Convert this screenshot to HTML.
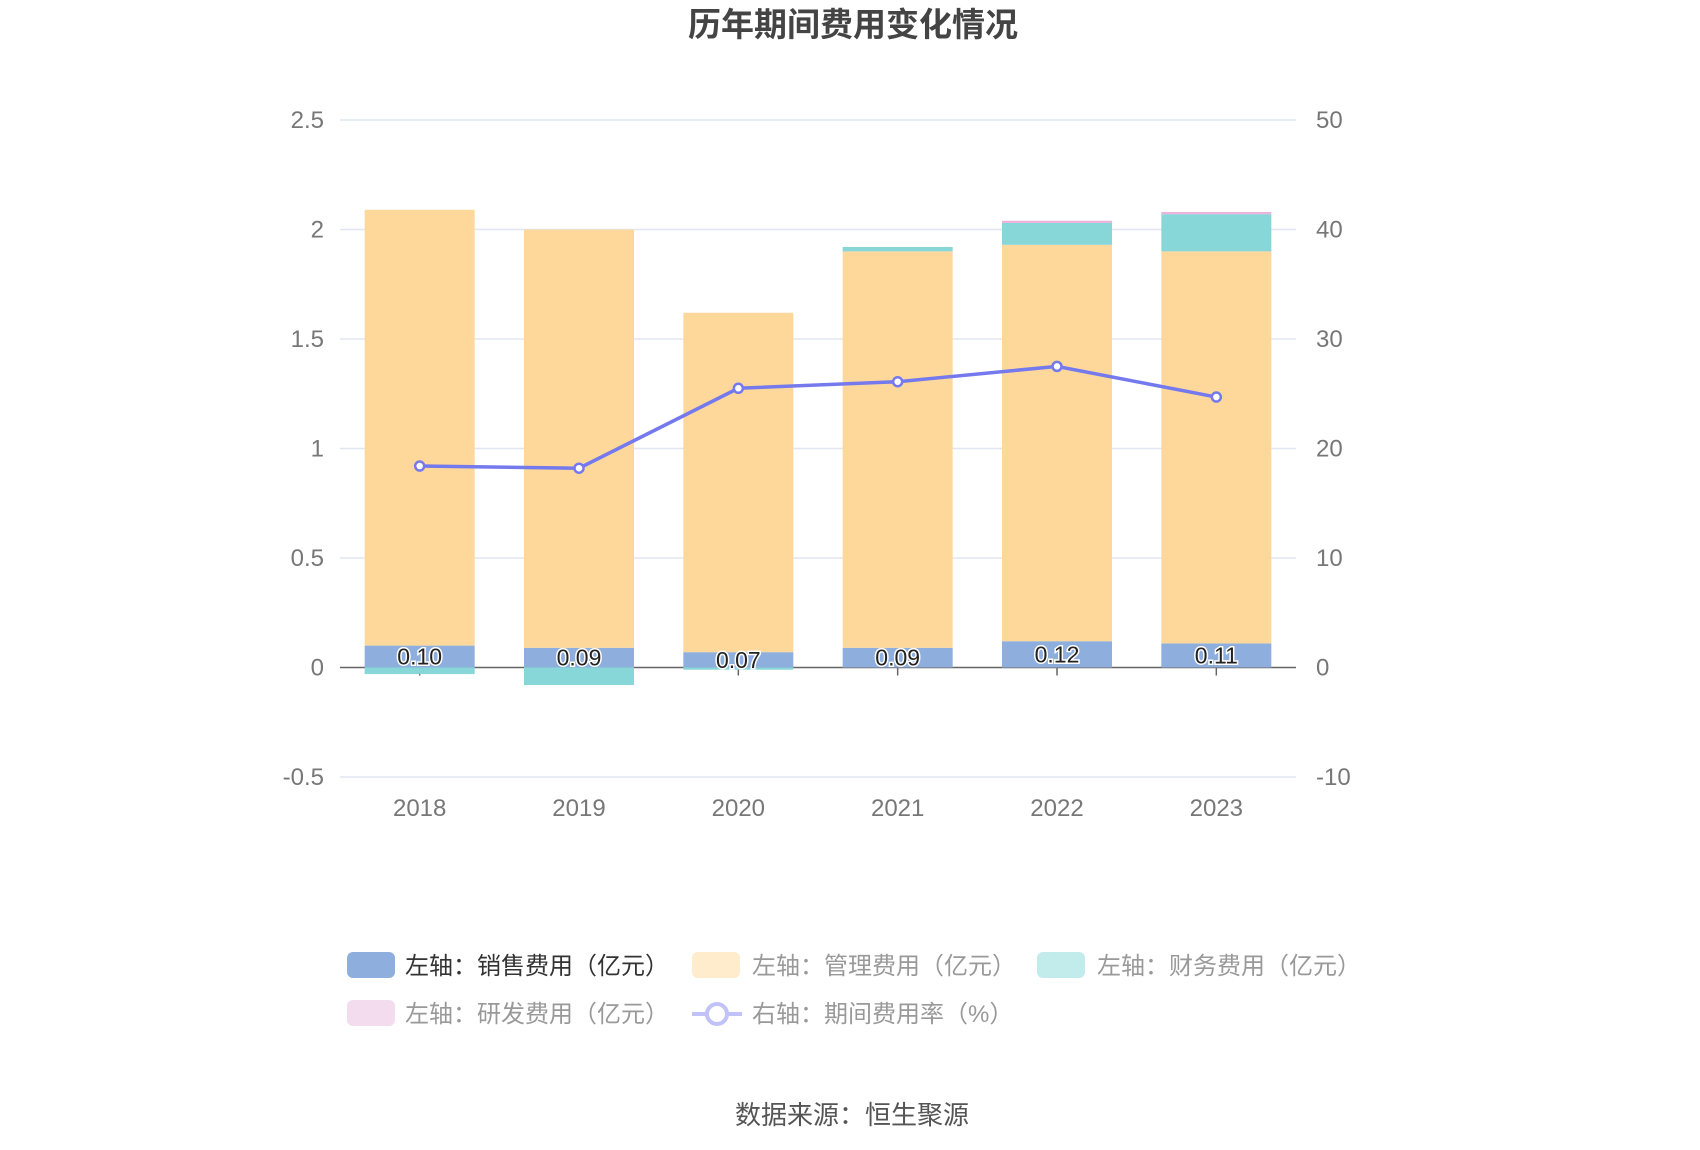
<!DOCTYPE html>
<html><head><meta charset="utf-8"><style>
body{margin:0;background:#fff;}
svg{display:block;font-family:"Liberation Sans","Noto Sans CJK SC",sans-serif;}
</style></head><body>
<svg id="c" width="1700" height="1150">
<text x="853" y="36" text-anchor="middle" font-size="33" font-weight="bold" fill="#444">历年期间费用变化情况</text>
<g id="grid"></g><g id="bars"></g><g id="line"></g><g id="labels"></g>
<g font-size="24">
<g><rect x="347" y="952" width="48" height="26" rx="6" fill="#8eaedd"/><text x="405" y="974" fill="#333">左轴：销售费用（亿元）</text></g>
<g><rect x="692" y="952" width="48" height="26" rx="6" fill="#ffeccc"/><text x="752" y="974" fill="#999">左轴：管理费用（亿元）</text></g>
<g><rect x="1037" y="952" width="48" height="26" rx="6" fill="#c2ebeb"/><text x="1097" y="974" fill="#999">左轴：财务费用（亿元）</text></g>
<g><rect x="347" y="1000" width="48" height="26" rx="6" fill="#f3dcee"/><text x="405" y="1022" fill="#999">左轴：研发费用（亿元）</text></g>
<g><line x1="692" y1="1014" x2="742" y2="1014" stroke="#c0c2f8" stroke-width="4"/><circle cx="717" cy="1014" r="10" fill="#fff" stroke="#c0c2f8" stroke-width="4"/><text x="752" y="1022" fill="#999">右轴：期间费用率（%）</text></g>
</g>
<text x="852" y="1124" text-anchor="middle" font-size="26" fill="#555">数据来源：恒生聚源</text>
</svg>
<script>
const categories=["2018","2019","2020","2021","2022","2023"];
const sales=[0.10,0.09,0.07,0.09,0.12,0.11];
const admin=[1.99,1.91,1.55,1.81,1.81,1.79];
const finance=[-0.03,-0.08,-0.01,0.02,0.10,0.17];
const rnd=[0,0,0,0,0.01,0.01];
const rate=[18.4,18.2,25.5,26.1,27.5,24.7];
const leftTicks=[-0.5,0,0.5,1,1.5,2,2.5];
const rightTicks=[-10,0,10,20,30,40,50];
const NS="http://www.w3.org/2000/svg";
const X0=340,X1=1302-6,YT=120,YB=777;
const yL=v=>YB-(v+0.5)/3*(YB-YT);
const yR=v=>YB-(v+10)/60*(YB-YT);
const band=(X1-X0)/categories.length;
const xC=i=>X0+band*(i+0.5);
const bw=110;
function mk(t,a,p){const e=document.createElementNS(NS,t);for(const k in a)e.setAttribute(k,a[k]);p.appendChild(e);return e;}
const grid=document.getElementById('grid');
leftTicks.forEach((v,i)=>{
 const l=mk('line',{x1:X0,x2:X1,y1:yL(v),y2:yL(v),stroke:v===0?'#666':'#e0e6f1','stroke-width':1.5},grid);
 
 
 const t=mk('text',{x:324,y:yL(v)+8,'text-anchor':'end','font-size':24,fill:'#777'},grid);t.textContent=v;
 
 
});
rightTicks.forEach(v=>{
 const t=mk('text',{x:1316,y:yR(v)+8,'font-size':24,fill:'#777'},grid);t.textContent=v;
 
 
});
categories.forEach((c,i)=>{
 const t=mk('text',{x:xC(i),y:816,'text-anchor':'middle','font-size':24,fill:'#777'},grid);t.textContent=c;
 
 
 const tk=mk('line',{x1:xC(i),x2:xC(i),y1:yL(0),y2:yL(0)+8,stroke:'#666','stroke-width':1.5},grid);
 
 
});
const bars=document.getElementById('bars');
const series=[[sales,'#8eaedd','sales'],[admin,'#fed89b','admin'],[finance,'#87d6d8','finance'],[rnd,'#eab3dc','rnd']];
categories.forEach((c,i)=>{
 let pos=0,neg=0;
 series.forEach(([arr,col,nm])=>{
  const v=arr[i];if(!v)return;
  let a,b;
  if(v>=0){a=pos;b=pos+v;pos=b;}else{a=neg;b=neg+v;neg=b;}
  const r=mk('rect',{x:xC(i)-bw/2,y:Math.min(yL(a),yL(b)),width:bw,height:Math.abs(yL(a)-yL(b)),fill:col},bars);
  
  
 });
});
const lg=document.getElementById('line');
const pts=rate.map((v,i)=>xC(i)+','+yR(v)).join(' ');
const pl=mk('polyline',{points:pts,fill:'none',stroke:'#7479ee','stroke-width':3.5},lg);


rate.forEach((v,i)=>{
 const p=mk('circle',{cx:xC(i),cy:yR(v),r:4.5,fill:'#fff',stroke:'#7479ee','stroke-width':2.5},lg);
 
 
});
const lb=document.getElementById('labels');
sales.forEach((v,i)=>{
 const t=mk('text',{x:xC(i),y:yL(v/2)+8,'text-anchor':'middle','font-size':23,fill:'#222',stroke:'#fff','stroke-width':3,'paint-order':'stroke'},lb);
 t.textContent=v.toFixed(2);
 
 
});
</script>
</body></html>
